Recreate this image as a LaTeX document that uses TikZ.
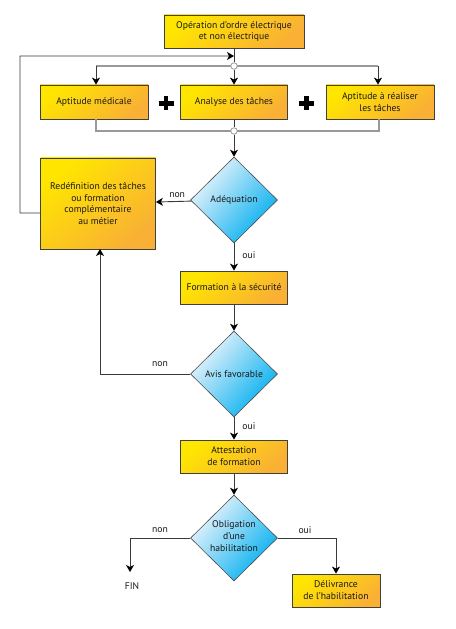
\documentclass[tikz,border=0pt]{standalone}
\usepackage{fontspec}
\setmainfont{PT Sans}
\usetikzlibrary{arrows.meta,shapes.geometric,shadows}
\definecolor{boxY}{HTML}{FFE600}
\definecolor{boxM}{HTML}{FFD61C}
\definecolor{boxO}{HTML}{F9B035}
\definecolor{diaL}{HTML}{F0F6FC}
\definecolor{diaM}{HTML}{4FC0EE}
\definecolor{diaC}{HTML}{00AEEF}
\definecolor{lineG}{HTML}{999999}
\definecolor{lineD}{HTML}{3A3A3A}
\begin{document}
\begin{tikzpicture}[x=1bp,y=-1bp,
  txt/.style={font=\fontsize{9.7}{12}\selectfont, align=center, text=black!90},
  box/.style={rectangle, draw=black!75, line width=0.8bp, left color=boxY, middle color=boxM, right color=boxO, shading angle=40,
    txt, inner sep=0pt, drop shadow={shadow xshift=0.7bp, shadow yshift=-0.9bp, opacity=0.35}},
  dia/.style={diamond, draw=black!70, line width=0.6bp, minimum width=87bp, minimum height=86bp, inner sep=0pt,
    left color=diaL, middle color=diaM, right color=diaC, shading angle=50},
  lab/.style={txt, inner sep=0pt},
  conn/.style={draw=lineD, line width=0.9bp},
  arr/.style={conn, -{Stealth[length=7bp,width=8bp,inset=2bp,color=black]}},
  bus/.style={draw=lineG, line width=1.2bp},
  junc/.style={circle, draw=lineG, fill=white, line width=0.8bp, minimum size=6.5bp, inner sep=0pt},
  plus/.style={line width=4.2bp, black},
]
\useasboundingbox (0,0) rectangle (456,629);

% boxes
\node[box, minimum width=140bp, minimum height=33bp] (t) at (234,31.5) {Opération d’ordre électrique\\et non électrique};
\node[box, minimum width=108bp, minimum height=34bp] (b1) at (94,102) {Aptitude médicale};
\node[box, minimum width=107bp, minimum height=34bp] (b2) at (234,102) {Analyse des tâches};
\node[box, minimum width=108bp, minimum height=34bp] (b3) at (380,102) {Aptitude à réaliser\\les tâches};
\node[box, minimum width=115bp, minimum height=91bp] (r) at (98,203.5) {Redéfinition des tâches\\ou formation\\complémentaire\\au métier};
\node[box, minimum width=107bp, minimum height=33bp] (f) at (234,287.5) {Formation à la sécurité};
\node[box, minimum width=107bp, minimum height=33bp] (a) at (234,456.5) {Attestation\\de formation};
\node[box, minimum width=88bp, minimum height=33bp] (dl) at (336,590.5) {Délivrance\\de l’habilitation};

% diamonds
\node[dia] (d1) at (234,200) {};
\node[lab] (d1t) at (d1) {Adéquation};
\node[dia] (d2) at (234,374) {};
\node[lab] (d2t) at (d2) {Avis favorable};
\node[dia] (d3) at (234,538) {};
\node[lab] (d3t) at ([yshift=2bp]d3.center) {Obligation\\d’une\\habilitation};

% plus signs
\draw[plus] (158.5,103.5) -- (173.5,103.5) (166,96.5) -- (166,110.5);
\draw[plus] (299,103.5) -- (314,103.5) (306.5,96.5) -- (306.5,110.5);

% bus lines
\coordinate (L1) at (96,66);
\coordinate (R1) at (378,66);
\coordinate (L2) at (96,131);
\coordinate (R2) at (379,131);
\draw[bus] (L1) -- (R1);
\draw[bus] (L1 |- b1.south) -- (L2) -- (R2) -- (R2 |- b3.south);
\node[junc] (c1) at (234,66) {};
\node[junc] (c2) at (234,131) {};

% connectors top part
\draw[conn] (t) -- (c1);
\draw[arr] (L1) -- (L1 |- b1.north);
\draw[arr] (c1) -- (b2);
\draw[arr] (R1) -- (R1 |- b3.north);
\draw[conn] (b2) -- (c2);
\draw[arr] (c2) -- (d1);

% loop back
\coordinate (lp) at (234,56);
\draw[arr] ([yshift=-9.5bp]r.west) -- (20,213) -- (20,56) -- (lp);

% decisions
\draw[arr] (d1) -- (r) node[lab, pos=0.4, above=3bp] (n1) {non};
\draw[arr] (d1) -- (f) node[lab, pos=0.45, right=8bp] (o1) {oui};
\draw[arr] (f) -- (d2);
\draw[arr] (d2.west) -- (100,374) -- (100,249);
\node[lab] (n2) at (160,364) {non};
\draw[arr] (d2) -- (a) node[lab, pos=0.4, right=8bp] (o2) {oui};
\draw[arr] (a) -- (d3);

\coordinate (fe) at (130,572);
\node[lab] (fin) at (132,586) {FIN};
\draw[arr] (d3.west) -- (fe |- d3.west) -- (fe);
\node[lab] (n3) at (160,530) {non};
\draw[arr] (d3.east) -- (dl.north |- d3.east) -- (dl.north);
\node[lab] (o3) at (305,530) {oui};
\end{tikzpicture}
\end{document}
